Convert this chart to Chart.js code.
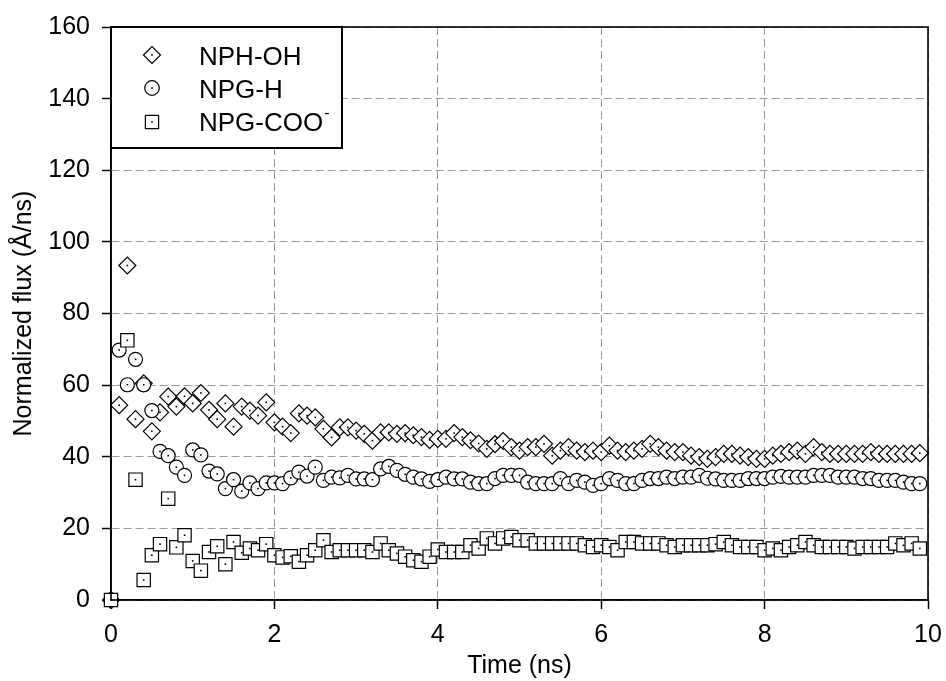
<!DOCTYPE html>
<html>
<head>
<meta charset="utf-8">
<script src="https://cdn.jsdelivr.net/npm/chart.js@4.4.1/dist/chart.umd.min.js"></script>
<style>
  html, body { margin: 0; padding: 0; background: #fff; }
  #wrap { width: 946px; height: 681px; position: relative; }
</style>
</head>
<body>
<div id="wrap"><canvas id="chart"></canvas></div>
<script>
// time axis (ns), one sample every 0.1 ns
const timeNs = [
  0.0, 0.1, 0.2, 0.3, 0.4, 0.5, 0.6, 0.7, 0.8, 0.9,
  1.0, 1.1, 1.2, 1.3, 1.4, 1.5, 1.6, 1.7, 1.8, 1.9,
  2.0, 2.1, 2.2, 2.3, 2.4, 2.5, 2.6, 2.7, 2.8, 2.9,
  3.0, 3.1, 3.2, 3.3, 3.4, 3.5, 3.6, 3.7, 3.8, 3.9,
  4.0, 4.1, 4.2, 4.3, 4.4, 4.5, 4.6, 4.7, 4.8, 4.9,
  5.0, 5.1, 5.2, 5.3, 5.4, 5.5, 5.6, 5.7, 5.8, 5.9,
  6.0, 6.1, 6.2, 6.3, 6.4, 6.5, 6.6, 6.7, 6.8, 6.9,
  7.0, 7.1, 7.2, 7.3, 7.4, 7.5, 7.6, 7.7, 7.8, 7.9,
  8.0, 8.1, 8.2, 8.3, 8.4, 8.5, 8.6, 8.7, 8.8, 8.9,
  9.0, 9.1, 9.2, 9.3, 9.4, 9.5, 9.6, 9.7, 9.8, 9.9
];

const nphOH = [
  0, 54.4, 93.4, 50.5, 60.5, 47.1, 52.4, 56.8, 54.0, 56.9,
  54.9, 57.8, 53.1, 50.5, 54.9, 48.4, 54.0, 52.9, 51.5, 55.2,
  49.6, 48.4, 46.6, 52.1, 51.5, 51.0, 47.8, 45.4, 48.2, 48.2,
  47.3, 46.4, 44.5, 46.8, 46.8, 46.4, 46.6, 46.0, 45.5, 44.7,
  45.0, 45.0, 46.6, 45.5, 44.6, 43.7, 42.2, 43.5, 44.4, 42.7,
  41.7, 42.7, 42.7, 43.6, 40.3, 41.7, 42.7, 41.7, 41.3, 41.7,
  41.3, 43.1, 41.7, 41.3, 41.7, 42.2, 43.6, 42.7, 41.7, 41.3,
  41.3, 40.3, 39.9, 39.4, 39.9, 40.8, 40.8, 40.3, 39.9, 39.4,
  39.4, 40.3, 40.8, 41.3, 41.7, 40.8, 42.7, 41.3, 40.8, 40.8,
  40.8, 40.8, 40.8, 41.3, 40.8, 40.8, 40.8, 40.8, 40.8, 41.0
];

const npgH = [
  0, 69.8, 60.1, 67.2, 60.1, 52.9, 41.5, 40.3, 37.1, 34.8,
  41.9, 40.5, 36.0, 35.2, 31.1, 33.6, 30.4, 32.7, 31.1, 32.7,
  32.7, 32.5, 34.1, 35.7, 34.6, 37.1, 33.4, 34.3, 34.1, 34.8,
  33.8, 33.8, 33.6, 36.6, 37.3, 36.2, 35.1, 34.3, 33.8, 33.1,
  33.6, 34.3, 33.8, 33.8, 32.9, 32.5, 32.5, 33.9, 34.8, 34.8,
  34.8, 32.9, 32.5, 32.5, 32.5, 33.9, 32.5, 33.4, 32.9, 32.0,
  32.5, 33.9, 33.4, 32.5, 32.5, 33.4, 33.9, 33.9, 34.3, 33.9,
  34.3, 34.3, 34.8, 34.0, 33.8, 33.4, 33.4, 33.4, 33.9, 33.9,
  33.9, 34.3, 34.5, 34.3, 34.3, 34.3, 34.8, 34.8, 34.8, 34.3,
  34.3, 34.3, 33.9, 33.9, 33.4, 33.4, 33.4, 32.9, 32.5, 32.5
];

const npgCOO = [
  0, null, 72.5, 33.6, 5.6, 12.5, 15.6, 28.3, 14.7, 18.1,
  10.9, 8.2, 13.4, 15.0, 10.0, 16.2, 13.2, 14.4, 13.9, 15.6,
  12.5, 11.9, 12.2, 10.7, 12.5, 13.9, 16.7, 13.4, 13.9, 13.9,
  13.9, 13.9, 13.4, 15.8, 13.9, 13.0, 12.1, 11.1, 10.7, 12.1,
  14.1, 13.4, 13.4, 13.4, 15.3, 14.4, 17.2, 15.8, 17.2, 17.6,
  16.7, 16.7, 15.8, 15.8, 15.8, 15.8, 15.8, 15.8, 15.3, 14.8,
  15.3, 14.8, 13.9, 16.2, 16.2, 15.8, 15.8, 15.8, 15.3, 14.8,
  15.3, 15.3, 15.3, 15.3, 15.6, 16.2, 15.3, 14.8, 14.8, 14.8,
  13.9, 14.4, 13.9, 14.8, 15.3, 16.2, 15.3, 14.8, 14.8, 14.8,
  14.8, 14.4, 14.8, 14.8, 14.8, 14.8, 15.8, 15.3, 15.8, 14.4
];

const seriesNames = ['NPH-OH', 'NPG-H', 'NPG-COO'];
const xTicks = [0, 2, 4, 6, 8, 10];
const yTicks = [0, 20, 40, 60, 80, 100, 120, 140, 160];

const FONT = "'Liberation Sans', Arial, Helvetica, sans-serif";

function toPoints(ys) {
  return timeNs.map((t, i) => ({x: t, y: ys[i]}));
}

function markerSet(style, radius, order) {
  return {
    pointStyle: style,
    pointRadius: radius,
    pointHoverRadius: radius,
    pointBorderWidth: 1.2,
    pointBorderColor: '#000',
    pointBackgroundColor: '#fff',
    showLine: false,
    clip: false,
    order: order
  };
}

// little black dot in the middle of every marker
const centerDots = {
  id: 'centerDots',
  afterDatasetDraw(chart, args) {
    const ctx = chart.ctx;
    ctx.save();
    ctx.fillStyle = '#000';
    args.meta.data.forEach(pt => {
      if (pt.skip || isNaN(pt.y)) return;
      ctx.fillRect(pt.x - 0.8, pt.y - 0.8, 1.6, 1.6);
    });
    ctx.restore();
  }
};

function drawMarker(ctx, kind, x, y) {
  ctx.beginPath();
  if (kind === 'diamond') {
    const r = 8.5;
    ctx.moveTo(x - r, y); ctx.lineTo(x, y - r); ctx.lineTo(x + r, y); ctx.lineTo(x, y + r);
    ctx.closePath();
  } else if (kind === 'circle') {
    ctx.arc(x, y, 7.3, 0, Math.PI * 2);
  } else {
    ctx.rect(x - 6.6, y - 6.6, 13.2, 13.2);
  }
  ctx.fillStyle = '#fff';
  ctx.fill();
  ctx.lineWidth = 1.2;
  ctx.strokeStyle = '#000';
  ctx.stroke();
  ctx.fillStyle = '#000';
  ctx.fillRect(x - 0.8, y - 0.8, 1.6, 1.6);
}

// plot frame + boxed legend in the top-left corner
const frameAndLegend = {
  id: 'frameAndLegend',
  afterDraw(chart) {
    const {ctx, chartArea: a} = chart;
    ctx.save();
    ctx.strokeStyle = '#000';
    ctx.lineWidth = 1.6;
    ctx.strokeRect(a.left, a.top, a.right - a.left, a.bottom - a.top);

    const bx = a.left, by = a.top, bw = 231, bh = 121;
    ctx.fillStyle = '#fff';
    ctx.fillRect(bx, by, bw, bh);
    ctx.lineWidth = 2;
    ctx.strokeRect(bx, by, bw, bh);

    const kinds = ['diamond', 'circle', 'square'];
    const markY = [28, 61, 95];
    const baseY = [37.5, 71.3, 104.2];
    ctx.font = '26px ' + FONT;
    ctx.textBaseline = 'alphabetic';
    ctx.textAlign = 'left';
    seriesNames.forEach((name, i) => {
      drawMarker(ctx, kinds[i], bx + 41, by + markY[i]);
      ctx.fillStyle = '#000';
      ctx.fillText(name, bx + 88, by + baseY[i]);
      if (i === 2) {
        const w = ctx.measureText(name).width;
        ctx.font = '16px ' + FONT;
        ctx.fillText('-', bx + 88 + w + 1, by + baseY[i] - 13);
        ctx.font = '26px ' + FONT;
      }
    });
    ctx.restore();
  }
};

Chart.defaults.font.family = FONT;
Chart.defaults.font.size = 25;
Chart.defaults.color = '#000';

new Chart(document.getElementById('chart').getContext('2d'), {
  type: 'scatter',
  data: {
    datasets: [
      Object.assign({label: seriesNames[0], data: toPoints(nphOH)}, markerSet('rectRot', 8.5, 3)),
      Object.assign({label: seriesNames[1], data: toPoints(npgH)}, markerSet('circle', 7, 2)),
      Object.assign({label: seriesNames[2], data: toPoints(npgCOO)}, markerSet('rect', 9.4, 1))
    ]
  },
  options: {
    responsive: true,
    maintainAspectRatio: false,
    animation: false,
    events: [],
    layout: {padding: {top: 27, right: 18, left: 0, bottom: 0}},
    plugins: {
      legend: {display: false},
      tooltip: {enabled: false}
    },
    scales: {
      x: {
        type: 'linear',
        min: 0,
        max: 10,
        afterBuildTicks: scale => { scale.ticks = xTicks.map(v => ({value: v})); },
        afterFit: scale => {
          scale.height = 81;
          scale.paddingRight = 0;
          scale.paddingLeft = 0;
        },
        ticks: {padding: 11, maxRotation: 0, font: {size: 25}},
        grid: {color: '#999', lineWidth: 1, tickColor: '#000', tickLength: 9, tickWidth: 1.5},
        border: {color: '#000', width: 1.6, dash: [8, 4]},
        title: {display: true, text: 'Time (ns)', font: {size: 25}, padding: {top: 0, bottom: 0}}
      },
      y: {
        type: 'linear',
        min: 0,
        max: 160,
        afterBuildTicks: scale => { scale.ticks = yTicks.map(v => ({value: v})); },
        afterFit: scale => { scale.width = 111; },
        ticks: {padding: 12, font: {size: 25}},
        grid: {color: '#999', lineWidth: 1, tickColor: '#000', tickLength: 9, tickWidth: 1.5},
        border: {color: '#000', width: 1.6, dash: [8, 4]},
        title: {display: true, text: 'Normalized flux (Å/ns)', font: {size: 25}, padding: {top: 9, bottom: 0}}
      }
    }
  },
  plugins: [centerDots, frameAndLegend]
});
</script>
</body>
</html>
